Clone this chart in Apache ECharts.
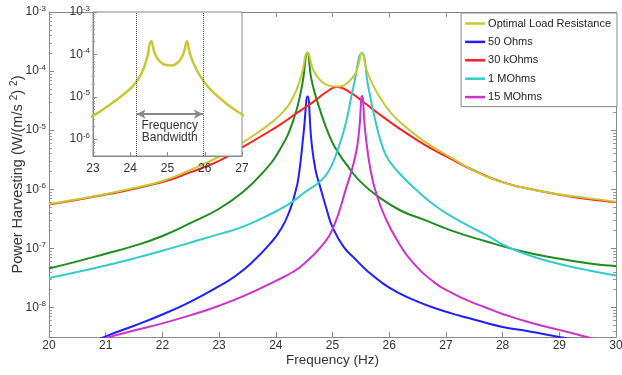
<!DOCTYPE html>
<html>
<head>
<meta charset="utf-8">
<script src="https://cdn.jsdelivr.net/npm/echarts@6/dist/echarts.min.js"></script>
<style>
html, body { margin: 0; padding: 0; background: #fff; }
#chart { width: 622px; height: 375px; }
</style>
</head>
<body>
<div id="chart"></div>
<script>
// frequency (Hz) / power (W/(m/s^2)^2)
const optimalFreq = [20, 20.5, 21, 21.5, 22, 22.5, 23, 23.4, 23.8, 24.1, 24.3, 24.45, 24.56, 24.66, 24.78, 24.95, 25.1, 25.2, 25.37, 25.45, 25.52, 25.6, 25.72, 25.9, 26.1, 26.4, 26.7, 27.1, 27.7, 28.3, 28.9, 29.5, 30]
const optimalPower = [5.62e-7, 6.76e-7, 8.32e-7, 1.05e-6, 1.38e-6, 2.14e-6, 3.55e-6, 6.03e-6, 1.10e-5, 1.91e-5, 3.55e-5, 8.32e-5, 2.04e-4, 1.05e-4, 7.08e-5, 5.62e-5, 5.50e-5, 5.75e-5, 8.13e-5, 1.20e-4, 2.04e-4, 1.05e-4, 5.62e-5, 2.88e-5, 1.66e-5, 9.33e-6, 5.75e-6, 3.39e-6, 1.66e-6, 1.10e-6, 8.51e-7, 7.08e-7, 6.17e-7]

const ohm50Freq = [20.7, 21, 21.5, 22, 22.5, 23, 23.3, 23.6, 23.9, 24.1, 24.25, 24.33, 24.4, 24.49, 24.56, 24.63, 24.7, 24.78, 24.9, 25, 25.2, 25.4, 25.6, 25.9, 26.2, 26.5, 26.8, 27.1, 27.4, 27.7, 28, 28.5, 29, 29.3]
const ohm50Power = [2.40e-9, 3.24e-9, 4.90e-9, 7.59e-9, 1.26e-8, 2.29e-8, 3.47e-8, 6.03e-8, 1.20e-7, 2.19e-7, 4.47e-7, 7.94e-7, 1.58e-6, 8.91e-6, 3.72e-5, 6.31e-6, 2.14e-6, 1.12e-6, 4.47e-7, 2.29e-7, 1.05e-7, 6.61e-8, 4.27e-8, 2.51e-8, 1.70e-8, 1.26e-8, 9.77e-9, 7.94e-9, 6.61e-9, 5.50e-9, 4.68e-9, 3.89e-9, 3.16e-9, 2.82e-9]

const kohm30Freq = [20, 21, 22, 22.5, 23, 23.43, 23.78, 24.07, 24.37, 24.66, 24.9, 25.08, 25.31, 25.54, 25.84, 26.13, 26.43, 26.72, 27.04, 27.4, 28, 28.6, 29.3, 30]
const kohm30Power = [5.50e-7, 8.13e-7, 1.32e-6, 1.95e-6, 3.02e-6, 5.25e-6, 8.32e-6, 1.23e-5, 1.95e-5, 3.02e-5, 4.47e-5, 5.37e-5, 4.37e-5, 3.02e-5, 1.82e-5, 1.15e-5, 7.41e-6, 5.01e-6, 3.47e-6, 2.29e-6, 1.32e-6, 9.55e-7, 7.24e-7, 6.03e-7]

const mohm1Freq = [20, 20.5, 21, 21.5, 22, 22.5, 23, 23.4, 23.8, 24.2, 24.5, 24.8, 24.95, 25.07, 25.22, 25.37, 25.52, 25.63, 25.78, 25.9, 26, 26.25, 26.5, 26.8, 27.1, 27.4, 27.7, 28, 28.3, 28.6, 28.9, 29.2, 29.5, 30]
const mohm1Power = [3.16e-8, 3.98e-8, 5.13e-8, 6.76e-8, 9.12e-8, 1.26e-7, 1.74e-7, 2.29e-7, 3.39e-7, 5.37e-7, 8.71e-7, 1.41e-6, 2.19e-6, 4.07e-6, 1.15e-5, 5.50e-5, 2.04e-4, 5.50e-5, 1.15e-5, 4.68e-6, 3.02e-6, 1.58e-6, 9.33e-7, 5.37e-7, 3.47e-7, 2.40e-7, 1.70e-7, 1.17e-7, 8.71e-8, 6.92e-8, 5.75e-8, 4.90e-8, 4.27e-8, 3.47e-8]

const mohm15Freq = [20.8, 21.1, 21.5, 22, 22.5, 23, 23.5, 24, 24.3, 24.5, 24.8, 25, 25.25, 25.4, 25.47, 25.52, 25.58, 25.67, 25.78, 25.95, 26.15, 26.4, 26.8, 27.1, 27.4, 27.7, 28, 28.5, 29, 29.4, 29.6]
const mohm15Power = [2.63e-9, 3.24e-9, 4.07e-9, 5.37e-9, 7.41e-9, 1.07e-8, 1.66e-8, 2.82e-8, 3.98e-8, 5.50e-8, 1.07e-7, 2.09e-7, 1.12e-6, 3.55e-6, 1.00e-5, 3.80e-5, 8.91e-6, 2.14e-6, 7.94e-7, 3.02e-7, 1.32e-7, 6.03e-8, 2.63e-8, 1.78e-8, 1.29e-8, 1.00e-8, 7.76e-9, 5.50e-9, 4.17e-9, 3.31e-9, 2.95e-9]

// green curve, no legend entry
const greenFreq = [20, 20.5, 21, 21.5, 22, 22.5, 23, 23.4, 23.75, 24.07, 24.31, 24.46, 24.56, 24.63, 24.78, 24.96, 25.1, 25.3, 25.5, 25.8, 26.2, 26.6, 27.1, 27.7, 28.3, 28.9, 29.5, 30]
const greenPower = [4.57e-8, 6.03e-8, 8.13e-8, 1.10e-7, 1.62e-7, 2.69e-7, 4.68e-7, 8.71e-7, 1.82e-6, 4.68e-6, 1.48e-5, 5.50e-5, 2.04e-4, 7.08e-5, 2.19e-5, 7.41e-6, 4.17e-6, 2.24e-6, 1.32e-6, 7.59e-7, 4.37e-7, 3.09e-7, 2.00e-7, 1.32e-7, 9.12e-8, 6.92e-8, 5.62e-8, 5.01e-8]

const legendNames = ['Optimal Load Resistance', '50 Ohms', '30 kOhms', '1 MOhms', '15 MOhms']
const xTicks = [20, 30]
const insetX = [23, 27]
const bandEdges = [24.17, 25.95]
const bandArrowLevel = 3.9e-6

const font = 'Liberation Sans, Arial, sans-serif'
const pairs = (xs, ys) => xs.map((x, i) => [x, ys[i]])

// matlab style minor ticks at 2..9 of each decade
function minorTicks(lo, hi) {
    const out = []
    for (let e = -9; e <= -4; e++) {
        for (let k = 2; k <= 9; k++) {
            const v = k * Math.pow(10, e)
            if (v > lo && v < hi) out.push(v)
        }
    }
    return out
}

const supLabel = (v) => '10{sup|' + Math.round(Math.log10(v)) + '}'
const supRich = {
    sup: { fontSize: 8, fontFamily: font, color: '#333', padding: [0, 0, 7, 0] }
}

const chart = echarts.init(document.getElementById('chart'))

const lineSeries = (name, data, color, z) => ({
    name: name,
    type: 'line',
    xAxisIndex: 0,
    yAxisIndex: 0,
    data: data,
    smooth: 0.5,
    showSymbol: false,
    symbol: 'none',
    clip: true,
    z: z,
    lineStyle: { color: color, width: 2 },
    itemStyle: { color: color },
})

const minorAxis = (gridIndex, min, max, position, len) => ({
    type: 'log', gridIndex: gridIndex, min: min, max: max, logBase: 10, position: position,
    axisLine: { show: false },
    axisTick: { show: true, inside: true, length: len, customValues: minorTicks(min, max), lineStyle: { color: '#999' } },
    axisLabel: { show: false },
    splitLine: { show: false },
    z: gridIndex === 1 ? 12 : 0,
})

const options = {
    animation: false,
    backgroundColor: '#fff',
    textStyle: { fontFamily: font },
    grid: [
        { left: 49, right: 6, top: 12, bottom: 38, show: false, outerBoundsMode: 'none', containLabel: false },
        { left: 93, width: 149, top: 12, height: 144, show: true, backgroundColor: '#fff', borderColor: '#888', borderWidth: 1, z: 10, outerBoundsMode: 'none', containLabel: false },
    ],
    legend: {
        orient: 'vertical',
        right: 5,
        top: 13,
        itemWidth: 20,
        itemHeight: 2.5,
        itemGap: 7.4,
        icon: 'rect',
        backgroundColor: '#fff',
        borderColor: '#888',
        borderWidth: 1,
        borderRadius: 0,
        padding: [5, 6, 4, 4],
        textStyle: { fontSize: 11, color: '#222', fontFamily: font, padding: [0, 0, 0, -2] },
        data: legendNames,
        z: 20,
    },
    xAxis: [
        {
            type: 'value', gridIndex: 0, min: xTicks[0], max: xTicks[1], interval: 1, position: 'bottom',
            name: 'Frequency (Hz)', nameLocation: 'middle', nameGap: 16, nameMoveOverlap: false,
            nameTextStyle: { fontSize: 13.5, color: '#333', fontFamily: font },
            axisLine: { lineStyle: { color: '#888' } },
            axisTick: { inside: true, length: 5, lineStyle: { color: '#888' } },
            axisLabel: { fontSize: 12, color: '#333', margin: 3 },
            splitLine: { show: false },
        },
        {
            type: 'value', gridIndex: 0, min: xTicks[0], max: xTicks[1], interval: 1, position: 'top',
            axisLine: { lineStyle: { color: '#888' } },
            axisTick: { inside: true, length: 5, lineStyle: { color: '#888' } },
            axisLabel: { show: false },
            splitLine: { show: false },
        },
        {
            type: 'value', gridIndex: 1, min: insetX[0], max: insetX[1], interval: 1, position: 'bottom', z: 12,
            axisLine: { lineStyle: { color: '#888' } },
            axisTick: { inside: true, length: 4, lineStyle: { color: '#888' } },
            axisLabel: { fontSize: 12, color: '#333', margin: 7 },
            splitLine: { show: false },
        },
    ],
    yAxis: [
        {
            type: 'log', gridIndex: 0, min: 3.162e-9, max: 1e-3, logBase: 10, position: 'left',
            name: 'Power Harvesting (W/(m/s {sup|2}) {sup|2})', nameLocation: 'middle', nameGap: 22, nameMoveOverlap: false,
            nameTextStyle: { fontSize: 14.5, color: '#333', fontFamily: font, rich: { sup: { fontSize: 10, fontFamily: font, color: '#333', padding: [0, 0, 8, 0] } } },
            axisLine: { show: true, lineStyle: { color: '#888' } },
            axisTick: { show: true, inside: true, length: 5, lineStyle: { color: '#888' } },
            axisLabel: { fontSize: 12, color: '#333', margin: 3, showMinLabel: false, formatter: supLabel, rich: supRich },
            splitLine: { show: false },
        },
        {
            type: 'log', gridIndex: 0, min: 3.162e-9, max: 1e-3, logBase: 10, position: 'right',
            axisLine: { show: true, lineStyle: { color: '#888' } },
            axisTick: { show: true, inside: true, length: 5, lineStyle: { color: '#888' } },
            axisLabel: { show: false },
            splitLine: { show: false },
        },
        {
            type: 'log', gridIndex: 1, min: 4e-7, max: 1e-3, logBase: 10, position: 'left', z: 12,
            axisLine: { show: true, lineStyle: { color: '#888' } },
            axisTick: { show: true, inside: true, length: 4, lineStyle: { color: '#888' } },
            axisLabel: { fontSize: 12, color: '#333', margin: 3, showMinLabel: false, formatter: supLabel, rich: supRich },
            splitLine: { show: false },
        },
        minorAxis(0, 3.162e-9, 1e-3, 'left', 3),
        minorAxis(0, 3.162e-9, 1e-3, 'right', 3),
        minorAxis(1, 4e-7, 1e-3, 'left', 2),
    ],
    series: [
        lineSeries('green', pairs(greenFreq, greenPower), '#1e8c1e', 2),
        lineSeries('50 Ohms', pairs(ohm50Freq, ohm50Power), '#1f1fff', 3),
        lineSeries('30 kOhms', pairs(kohm30Freq, kohm30Power), '#ff2020', 3),
        lineSeries('1 MOhms', pairs(mohm1Freq, mohm1Power), '#33cccc', 3),
        lineSeries('15 MOhms', pairs(mohm15Freq, mohm15Power), '#cc33cc', 3),
        lineSeries('Optimal Load Resistance', pairs(optimalFreq, optimalPower), '#c8c832', 4),
        {
            name: 'inset',
            type: 'line',
            xAxisIndex: 2,
            yAxisIndex: 2,
            data: pairs(optimalFreq, optimalPower),
            smooth: 0.5,
            symbol: 'none',
            clip: true,
            z: 14,
            lineStyle: { color: '#c8c832', width: 2.5 },
            markLine: {
                silent: true,
                symbol: 'none',
                animation: false,
                z: 15,
                lineStyle: { type: 'dotted', color: '#444', width: 1 },
                label: { show: false },
                data: [
                    { xAxis: bandEdges[0] },
                    { xAxis: bandEdges[1] },
                    [
                        {
                            coord: [bandEdges[0], bandArrowLevel], symbol: 'arrow', symbolSize: [7, 9],
                            lineStyle: { type: 'solid', color: '#888', width: 2 },
                            label: { show: true, position: 'insideMiddleBottom', distance: 6, formatter: 'Frequency\nBandwidth', color: '#333', fontSize: 12, lineHeight: 12, fontFamily: font },
                        },
                        { coord: [bandEdges[1], bandArrowLevel], symbol: 'arrow', symbolSize: [7, 9] },
                    ],
                ],
            },
        },
    ],
}

chart.setOption(options)
</script>
</body>
</html>
